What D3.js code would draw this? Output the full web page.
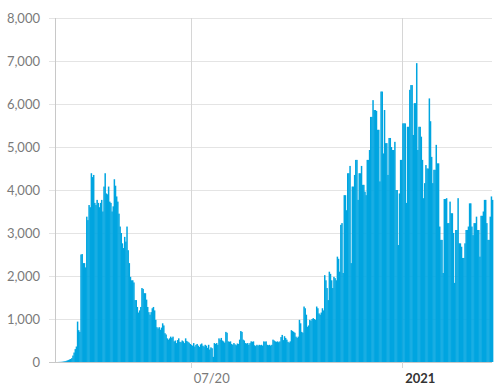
<!DOCTYPE html>
<html><head><meta charset="utf-8">
<script src="https://cdn.jsdelivr.net/npm/d3@7"></script>
<style>body{margin:0;background:#fff} svg text{font-family:Lato,"Open Sans",sans-serif}</style>
</head><body><svg id="c" width="500" height="387"></svg>
<script>
const startDate = "2020-03-05";
const dailyCases = [
0,0,1,2,3,5,8,12,18,
25,35,45,60,70,90,
150,220,300,360,940,
740,700,2500,2510,2300,2300,2200,3380,3300,3650,
3600,4390,4300,4350,3700,3650,3770,3700,3600,3700,
3770,3500,4080,4390,3920,3900,4080,3730,3700,3500,
3620,4250,4100,3850,3730,3450,3150,3000,2760,2650,
2910,2800,3150,2600,2300,1980,1900,1900,1850,1440,
1440,1280,1150,1200,1280,1720,1700,1600,1600,1450,
1280,1160,1100,1160,1250,1280,1200,980,810,780,
810,750,800,900,850,670,640,550,520,550,
590,560,590,480,500,440,510,550,470,460,
500,480,440,550,490,470,450,420,400,380,
440,360,400,420,380,350,410,430,380,360,
400,380,330,400,290,340,320,120,440,420,
440,400,550,520,560,500,480,450,700,680,
480,470,480,420,400,440,410,390,430,420,
520,720,700,520,500,440,430,440,400,440,
480,470,480,390,370,400,380,400,390,400,
380,480,470,480,400,390,400,380,400,520,
500,480,470,480,460,480,580,630,510,600,
560,520,470,450,480,740,720,700,680,590,
560,590,980,900,700,680,1290,1250,1100,820,
850,980,960,1000,1020,1000,980,1290,1250,1130,
1100,1150,1250,1200,2020,1900,1720,1440,2100,2050,
1900,1720,1980,1950,1900,2450,2400,2100,3190,3230,
2070,3880,3880,3530,4390,4390,4560,2300,4080,4080,
4350,4700,4700,3770,4390,4390,4560,4120,4120,3960,
3880,4700,4700,4930,5700,5700,6090,5860,5860,5840,
5400,5400,4200,6290,6290,4850,5860,5090,5090,4350,
5210,5210,5000,4930,4930,5120,4000,4000,2720,3920,
4700,4700,5550,5550,5550,3700,5470,5470,6330,6440,
6440,5280,6020,6020,6950,4930,5470,5470,5240,4700,
3810,4160,4580,4500,4500,6130,5600,4770,4160,4470,
4470,5050,4620,4620,3150,2840,2840,2070,3790,3790,
3810,3230,3230,3730,3460,3460,3000,1840,3070,3070,
3810,2760,2760,2680,2420,2420,2760,3070,3070,3150,
3690,3690,3150,2950,3230,3230,3380,3070,3070,2450,
3400,3400,3500,3770,3770,3230,2840,2840,3380,3850,3770
];
const yTickValues = [0,1000,2000,3000,4000,5000,6000,7000,8000];
const xTickDates = ["2020-07-01","2021-01-01"];
const xTickLabels = ["07/20","2021"];
const xTickBold = [false,true];

const parse = d3.utcParse("%Y-%m-%d");
const t0 = parse(startDate);
const data = dailyCases.map((v,i)=>({date:d3.utcDay.offset(t0,i), value:v}));
const x = d3.scaleUtc().domain([t0, d3.utcDay.offset(t0, dailyCases.length)]).range([55,493]);
const y = d3.scaleLinear().domain([0,8000]).range([362,18]);
const svg = d3.select("#c");

// horizontal gridlines
svg.append("g").selectAll("line").data(yTickValues).join("line")
  .attr("x1",49).attr("x2",492)
  .attr("y1",d=>Math.round(y(d))+0.5).attr("y2",d=>Math.round(y(d))+0.5)
  .attr("stroke",d=>d===0?"#c8c8c8":"#e4e4e4").attr("stroke-width",1);

// vertical gridlines and ticks at x ticks
const xt = xTickDates.map(parse);
svg.append("g").selectAll("line").data(xt).join("line")
  .attr("x1",d=>Math.round(x(d))+0.5).attr("x2",d=>Math.round(x(d))+0.5)
  .attr("y1",18).attr("y2",368)
  .attr("stroke","#d6d6d6").attr("stroke-width",1);

// y axis line
svg.append("line").attr("x1",55.5).attr("x2",55.5).attr("y1",18).attr("y2",362)
  .attr("stroke","#c8c8c8");

// bars
const step = x(d3.utcDay.offset(t0,1)) - x(t0);
svg.append("g").selectAll("rect").data(data).join("rect")
  .attr("x",d=>x(d.date))
  .attr("width",step+0.35)
  .attr("y",d=>y(d.value))
  .attr("height",d=>y(0)-y(d.value))
  .attr("fill","#00a5e0");

// y labels
svg.append("g").selectAll("text").data(yTickValues).join("text")
  .attr("x",40).attr("y",d=>y(d)).attr("dy","0.36em")
  .attr("text-anchor","end").attr("font-size",13).attr("fill","#7a7a7a")
  .text(d=>d3.format(",")(d));

// x labels
svg.append("g").selectAll("text").data(xt).join("text")
  .attr("x",d=>x(d)+3).attr("y",383)
  .attr("font-size",13)
  .attr("font-weight",(d,i)=>xTickBold[i]?"bold":"normal")
  .attr("fill",(d,i)=>xTickBold[i]?"#333":"#7a7a7a")
  .text((d,i)=>xTickLabels[i]);
</script></body></html>
